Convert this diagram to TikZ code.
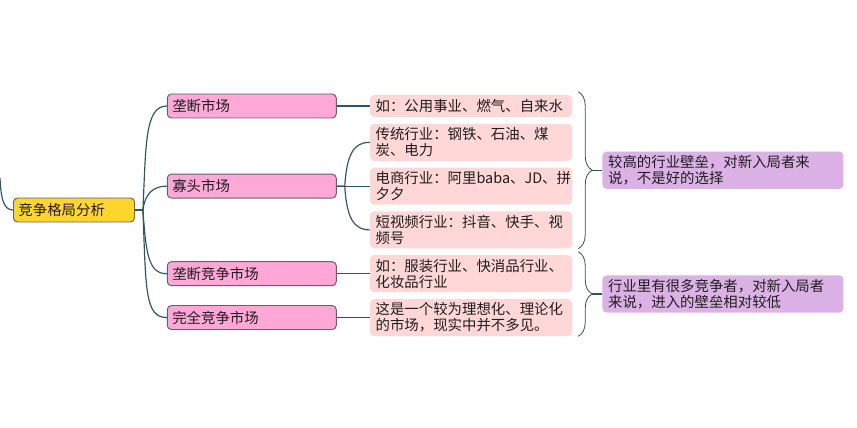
\documentclass[tikz,border=0pt]{standalone}
\usepackage{fontspec}
\setmainfont{Noto Sans CJK SC}
\usepackage{tikz}
\usetikzlibrary{positioning, calc, decorations.pathreplacing}
\definecolor{linkteal}{RGB}{47,84,100}
\definecolor{rootyellow}{RGB}{255,213,46}
\definecolor{branchpink}{RGB}{255,168,216}
\definecolor{leafpink}{RGB}{255,215,215}
\definecolor{notepurple}{RGB}{220,178,230}
\definecolor{edgegray}{RGB}{90,100,110}
\definecolor{textdark}{RGB}{30,30,30}

\begin{document}
\begin{tikzpicture}[
  x=0.03cm, y=-0.03cm,
  mapfont/.style={font=\fontsize{12.3}{13.8}\selectfont\color{textdark}},
  rootbox/.style={rectangle, rounded corners=3.5pt, draw=edgegray, line width=0.8pt,
              fill=rootyellow, text width=3.33cm, inner xsep=0.15cm, align=left,
              minimum height=0.72cm, mapfont},
  branchbox/.style={rectangle, rounded corners=3.5pt, draw=edgegray, line width=0.8pt,
              fill=branchpink, text width=4.77cm, inner xsep=0.15cm, align=left,
              minimum height=0.72cm, mapfont},
  leafbox/.style={rectangle, rounded corners=3.5pt, fill=leafpink,
              text width=5.72cm, inner xsep=0.17cm, inner ysep=1pt, align=left,
              minimum height=1.11cm, mapfont},
  notebox/.style={rectangle, rounded corners=3.5pt, fill=notepurple,
              text width=6.89cm, inner xsep=0.17cm, inner ysep=1pt, align=left,
              minimum height=1.12cm, mapfont},
  link/.style={draw=linkteal, line width=1pt},
  bracket/.style={draw=linkteal, line width=0.7pt, decorate,
              decoration={brace, amplitude=0.42cm}}
]
  \useasboundingbox (0,0) rectangle (857,428);

  % root and the link coming in from the left
  \node[rootbox, anchor=west] (root) at (13,210) {竞争格局分析};
  \coordinate (upper) at (0,178);
  \draw[link] (upper) .. controls +(1,22) and +(-9,0) .. (root.west);

  % leaves
  \node[leafbox, minimum height=0.66cm] (l1) at (471,106) {如：公用事业、燃气、自来水};
  \node[leafbox, below=0.19cm of l1] (l2) {传统行业：钢铁、石油、煤\\炭、电力};
  \node[leafbox, below=0.19cm of l2] (l3) {电商行业：阿里baba、JD、拼\\夕夕};
  \node[leafbox, below=0.19cm of l3] (l4) {短视频行业：抖音、快手、视\\频号};
  \node[leafbox, below=0.19cm of l4] (l5) {如：服装行业、快消品行业、\\化妆品行业};
  \node[leafbox, below=0.19cm of l5] (l6) {这是一个较为理想化、理论化\\的市场，现实中并不多见。};

  % market types
  \node[branchbox, left=0.99cm of l1] (b1) {垄断市场};
  \node[branchbox, left=0.99cm of l3] (b2) {寡头市场};
  \node[branchbox, left=0.99cm of l5] (b3) {垄断竞争市场};
  \node[branchbox, left=0.99cm of l6] (b4) {完全竞争市场};

  \coordinate (hub) at ([xshift=0.24cm]root.east);
  \draw[link] (root.east) -- (hub) .. controls +(3,-65) and +(-22,0) .. (b1.west);
  \draw[link] (root.east) -- (hub) .. controls +(2,-16) and +(-14,0) .. (b2.west);
  \draw[link] (root.east) -- (hub) .. controls +(3,45) and +(-18,0) .. (b3.west);
  \draw[link] (root.east) -- (hub) .. controls +(3,80) and +(-22,0) .. (b4.west);

  \coordinate (fork) at ([xshift=0.24cm]b2.east);
  \draw[link] (b1.east) -- (l1.west);
  \draw[link] (b2.east) -- (fork) .. controls +(2,-32) and +(-16,0) .. (l2.west);
  \draw[link] (b2.east) -- (l3.west);
  \draw[link] (b2.east) -- (fork) .. controls +(2,32) and +(-16,0) .. (l4.west);
  \draw[link] (b3.east) -- (l5.west);
  \draw[link] (b4.east) -- (l6.west);

  % summaries
  \coordinate (top1) at ([xshift=0.18cm,yshift=0.09cm]l1.north east);
  \coordinate (bot1) at ([xshift=0.18cm]l4.south east);
  \draw[bracket] (top1) -- (bot1);
  \coordinate (tip1) at ($(top1)!0.5!(bot1)+(0.42cm,0)$);
  \node[notebox, right=0.3cm of tip1] (s1) {较高的行业壁垒，对新入局者来\\说，不是好的选择};
  \draw[link] (tip1) -- (s1);

  \coordinate (top2) at ([xshift=0.18cm,yshift=0.1cm]l5.north east);
  \coordinate (bot2) at ([xshift=0.18cm]l6.south east);
  \draw[bracket] (top2) -- (bot2);
  \coordinate (tip2) at ($(top2)!0.5!(bot2)+(0.42cm,0)$);
  \node[notebox, right=0.3cm of tip2] (s2) {行业里有很多竞争者，对新入局者\\来说，进入的壁垒相对较低};
  \draw[link] (tip2) -- (s2);
\end{tikzpicture}
\end{document}
